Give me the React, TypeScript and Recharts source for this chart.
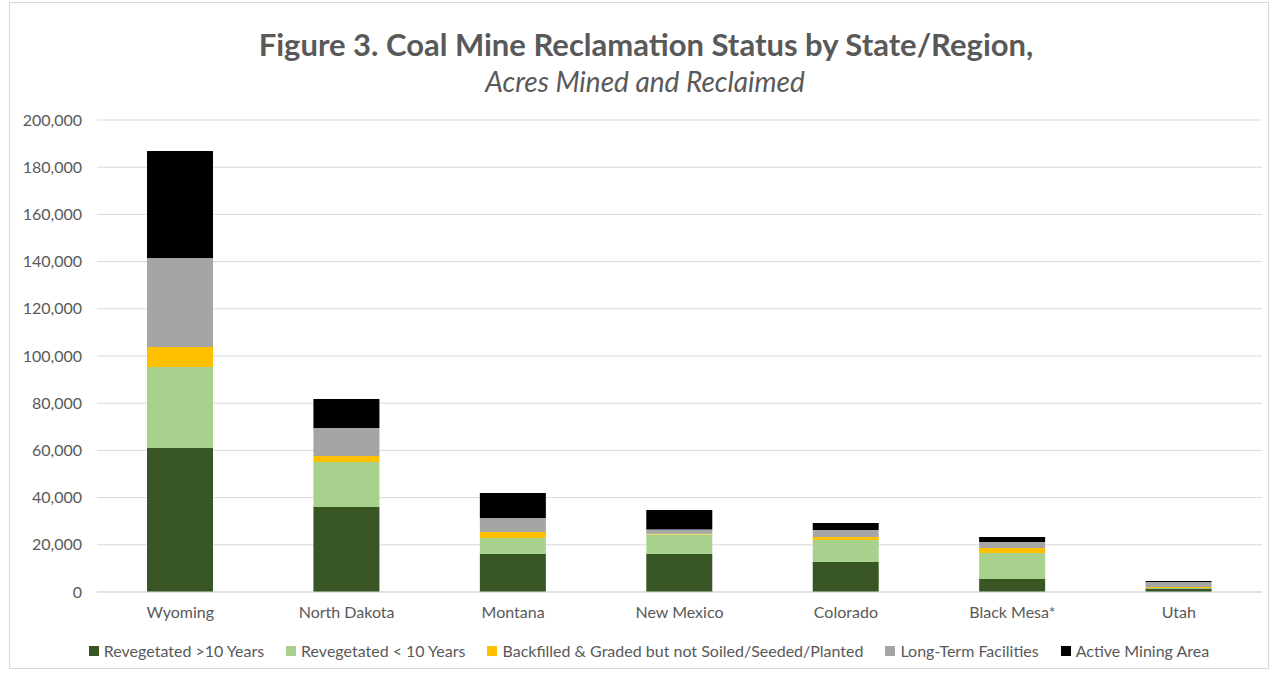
import { BarChart, Bar, XAxis, YAxis, CartesianGrid } from 'recharts';

const STATES = ['Wyoming', 'North Dakota', 'Montana', 'New Mexico', 'Colorado', 'Black Mesa*', 'Utah'];

// acres
const REVEG_OVER_10 = [61000, 36000, 16100, 16100, 12700, 5500, 1500];
const REVEG_UNDER_10 = [34300, 19100, 6800, 8300, 9300, 11000, 200];
const BACKFILLED = [8500, 2500, 2500, 300, 1300, 2100, 400];
const LONG_TERM = [37700, 11900, 6000, 1800, 3000, 2600, 2100];
const ACTIVE = [45400, 12300, 10600, 8200, 2900, 2100, 500];

const Y_TICKS = [0, 20000, 40000, 60000, 80000, 100000, 120000, 140000, 160000, 180000, 200000];

const SERIES = [
  { key: 'reveg10', name: 'Revegetated >10 Years', color: '#375623', values: REVEG_OVER_10 },
  { key: 'revegLess', name: 'Revegetated < 10 Years', color: '#a9d18e', values: REVEG_UNDER_10 },
  { key: 'backfilled', name: 'Backfilled & Graded but not Soiled/Seeded/Planted', color: '#ffc000', values: BACKFILLED },
  { key: 'longTerm', name: 'Long-Term Facilities', color: '#a5a5a5', values: LONG_TERM },
  { key: 'active', name: 'Active Mining Area', color: '#000000', values: ACTIVE },
];

const data = STATES.map((state, i) => {
  const row: Record<string, string | number> = { state };
  SERIES.forEach((s) => {
    row[s.key] = s.values[i];
  });
  return row;
});

const FONT = 'Lato, "Open Sans", sans-serif';
const TEXT = '#595959';

export default function App() {
  return (
    <div style={{ position: 'absolute', left: 0, top: 0, width: 1275, height: 673, background: '#fff', fontFamily: FONT }}>
      <div
        style={{
          position: 'absolute',
          left: 9,
          top: 2,
          width: 1258,
          height: 665,
          border: '1px solid #d9d9d9',
        }}
      />
      <div
        style={{
          position: 'absolute',
          top: 25,
          left: 0,
          width: 1292,
          textAlign: 'center',
          fontSize: 31,
          fontWeight: 700,
          color: TEXT,
          lineHeight: '38px',
        }}
      >
        Figure 3. Coal Mine Reclamation Status by State/Region,
      </div>
      <div
        style={{
          position: 'absolute',
          top: 64,
          left: 0,
          width: 1290,
          textAlign: 'center',
          fontSize: 28,
          fontStyle: 'italic',
          color: TEXT,
          lineHeight: '34px',
        }}
      >
        Acres Mined and Reclaimed
      </div>

      <div style={{ position: 'absolute', left: 0, top: 0 }}>
        <BarChart
          width={1275}
          height={673}
          data={data}
          margin={{ top: 120, right: 13, left: 0, bottom: 51 }}
        >
          <CartesianGrid vertical={false} stroke="#d9d9d9" />
          <XAxis
            dataKey="state"
            tickLine={false}
            axisLine={{ stroke: '#d9d9d9' }}
            tickMargin={9}
            height={30}
            tick={{ fontSize: 16, fill: TEXT, fontFamily: FONT }}
            interval={0}
          />
          <YAxis
            width={97}
            domain={[0, 200000]}
            ticks={Y_TICKS}
            tickLine={false}
            axisLine={false}
            tickMargin={9}
            tick={{ fontSize: 16, fill: TEXT, fontFamily: FONT }}
            tickFormatter={(v: number) => v.toLocaleString('en-US')}
          />
          {SERIES.map((s) => (
            <Bar
              key={s.key}
              dataKey={s.key}
              name={s.name}
              stackId="a"
              fill={s.color}
              barSize={66}
              isAnimationActive={false}
            />
          ))}
        </BarChart>
      </div>

      <div
        style={{
          position: 'absolute',
          top: 640,
          left: 0,
          width: 1298,
          display: 'flex',
          justifyContent: 'center',
          gap: 22,
          fontSize: 16,
          color: TEXT,
          lineHeight: '22px',
        }}
      >
        {SERIES.map((s) => (
          <div key={s.key} style={{ display: 'flex', alignItems: 'center' }}>
            <span style={{ display: 'inline-block', width: 10, height: 10, background: s.color, marginRight: 5 }} />
            <span>{s.name}</span>
          </div>
        ))}
      </div>
    </div>
  );
}
